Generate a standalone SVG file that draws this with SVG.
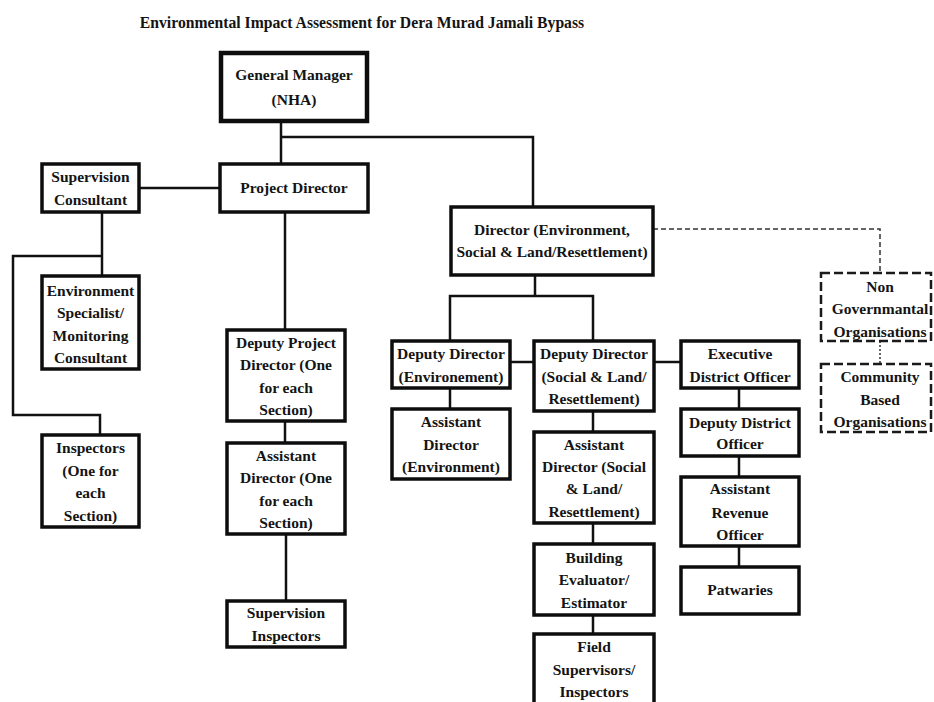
<svg xmlns="http://www.w3.org/2000/svg" width="934" height="702" viewBox="0 0 934 702">
<style>
.bx{fill:#fff;stroke:#0d0d0d;stroke-width:3.5}
.gm{stroke-width:4.5}
.dbx{fill:#fff;stroke:#1a1a1a;stroke-width:2.5;stroke-dasharray:9 4}
.ln{fill:none;stroke:#111;stroke-width:2.5}
.dl{fill:none;stroke:#333;stroke-width:1.5;stroke-dasharray:5 3}
.dt{fill:none;stroke:#333;stroke-width:1.5;stroke-dasharray:2 2}
text{font-family:"Liberation Serif","Times New Roman",serif;font-weight:bold;font-size:15.5px;fill:#141414;text-anchor:middle}
.title{font-size:15.7px}
</style>
<rect width="934" height="702" fill="#fff"/>
<text class="title" x="362" y="28">Environmental Impact Assessment for Dera Murad Jamali Bypass</text>
<g id="connectors">
<path class="ln" d="M281,121 V164"/>
<path class="ln" d="M281,137 H533 V207"/>
<path class="ln" d="M139,188 H220"/>
<path class="ln" d="M285,212 V330"/>
<path class="ln" d="M102,212 V276"/>
<path class="ln" d="M102,256 H13 V415 H100 V435"/>
<path class="ln" d="M285,421 V443"/>
<path class="ln" d="M286,534 V601"/>
<path class="ln" d="M535,275 V296"/>
<path class="ln" d="M450,341 V296 H593 V341"/>
<path class="ln" d="M510,362 H534"/>
<path class="ln" d="M654,362 H681"/>
<path class="ln" d="M450,388 V409"/>
<path class="ln" d="M593,411 V432"/>
<path class="ln" d="M593,523 V544"/>
<path class="ln" d="M593,615 V634"/>
<path class="ln" d="M739,388 V409"/>
<path class="ln" d="M739,456 V477"/>
<path class="ln" d="M739,546 V567"/>
<path class="dl" d="M653,229 H880 V273"/>
<path class="dt" d="M880,341 V364"/>
</g>
<g id="gm"><rect class="bx gm" x="221" y="53" width="146" height="68"/><text x="294" y="80">General Manager</text><text x="294" y="105">(NHA)</text></g>
<g id="pd"><rect class="bx" x="220" y="164" width="148" height="48"/><text x="294" y="193">Project Director</text></g>
<g id="sc"><rect class="bx" x="42" y="164" width="97" height="48"/><text x="90.5" y="182">Supervision</text><text x="90.5" y="205">Consultant</text></g>
<g id="es"><rect class="bx" x="42" y="276" width="97" height="93"/><text x="90.5" y="296">Environment</text><text x="90.5" y="318">Specialist/</text><text x="90.5" y="341">Monitoring</text><text x="90.5" y="363">Consultant</text></g>
<g id="insp"><rect class="bx" x="42" y="435" width="97" height="92"/><text x="90.5" y="453">Inspectors</text><text x="90.5" y="476">(One for</text><text x="90.5" y="498">each</text><text x="90.5" y="521">Section)</text></g>
<g id="dpd"><rect class="bx" x="227" y="330" width="118" height="91"/><text x="286" y="348">Deputy Project</text><text x="286" y="370">Director (One</text><text x="286" y="393">for each</text><text x="286" y="415">Section)</text></g>
<g id="ad"><rect class="bx" x="227" y="443" width="118" height="91"/><text x="286" y="461">Assistant</text><text x="286" y="483">Director (One</text><text x="286" y="506">for each</text><text x="286" y="528">Section)</text></g>
<g id="si"><rect class="bx" x="227" y="601" width="118" height="46"/><text x="286" y="618">Supervision</text><text x="286" y="641">Inspectors</text></g>
<g id="dir"><rect class="bx" x="451" y="207" width="202" height="68"/><text x="552" y="235">Director (Environment,</text><text x="552" y="257">Social &amp; Land/Resettlement)</text></g>
<g id="dde"><rect class="bx" x="392" y="341" width="118" height="47"/><text x="451" y="359">Deputy Director</text><text x="451" y="382">(Environement)</text></g>
<g id="ade"><rect class="bx" x="392" y="409" width="118" height="70"/><text x="451" y="427">Assistant</text><text x="451" y="450">Director</text><text x="451" y="472">(Environment)</text></g>
<g id="dds"><rect class="bx" x="534" y="341" width="120" height="70"/><text x="594" y="359">Deputy Director</text><text x="594" y="382">(Social &amp; Land/</text><text x="594" y="404">Resettlement)</text></g>
<g id="ads"><rect class="bx" x="534" y="432" width="120" height="91"/><text x="594" y="450">Assistant</text><text x="594" y="472">Director (Social</text><text x="594" y="494">&amp; Land/</text><text x="594" y="517">Resettlement)</text></g>
<g id="bee"><rect class="bx" x="534" y="544" width="120" height="71"/><text x="594" y="563">Building</text><text x="594" y="585">Evaluator/</text><text x="594" y="608">Estimator</text></g>
<g id="fsi"><rect class="bx" x="534" y="634" width="120" height="72"/><text x="594" y="652">Field</text><text x="594" y="675">Supervisors/</text><text x="594" y="697">Inspectors</text></g>
<g id="edo"><rect class="bx" x="681" y="341" width="118" height="47"/><text x="740" y="359">Executive</text><text x="740" y="382">District Officer</text></g>
<g id="ddo"><rect class="bx" x="681" y="409" width="118" height="47"/><text x="740" y="428">Deputy District</text><text x="740" y="449">Officer</text></g>
<g id="aro"><rect class="bx" x="681" y="477" width="118" height="69"/><text x="740" y="494">Assistant</text><text x="740" y="518">Revenue</text><text x="740" y="540">Officer</text></g>
<g id="pat"><rect class="bx" x="681" y="567" width="118" height="47"/><text x="740" y="595">Patwaries</text></g>
<g id="ngo"><rect class="dbx" x="821" y="273" width="110" height="68"/><text x="880" y="292">Non</text><text x="880" y="314">Governmantal</text><text x="880" y="337">Organisations</text></g>
<g id="cbo"><rect class="dbx" x="821" y="364" width="110" height="68"/><text x="880" y="382">Community</text><text x="880" y="405">Based</text><text x="880" y="427">Organisations</text></g>
</svg>
